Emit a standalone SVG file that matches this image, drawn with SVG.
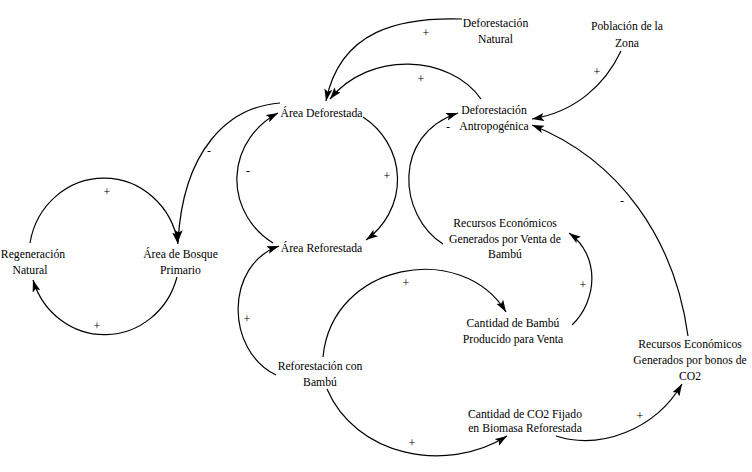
<svg xmlns="http://www.w3.org/2000/svg" width="752" height="472" viewBox="0 0 752 472">
<style>
.n text{font-family:"Liberation Serif","Times New Roman",serif;font-size:13px;fill:#000;text-anchor:middle}
.c path{fill:none;stroke:#000;stroke-width:1.2;marker-end:url(#ah)}
.s{font-family:"Liberation Serif","Times New Roman",serif;font-size:12px;fill:#000;text-anchor:middle}
</style>
<defs>
<marker id="ah" markerUnits="userSpaceOnUse" markerWidth="13" markerHeight="9" refX="12" refY="4" orient="auto">
<path d="M0,0 L12,4 L0,8 L2.5,4 z" fill="#000"/>
</marker>
</defs>
<rect width="752" height="472" fill="#fff"/>
<g class="c" id="connectors">
<path d="M30,243 A75 78 0 0 1 178,244"/>
<path d="M177,277 A75 78 0 0 1 33,280"/>
<path d="M280,103 C228,107 183,150 178,242"/>
<path d="M363,117 A80 76 0 0 1 366,240"/>
<path d="M273,243 A80 76 0 0 1 278,113"/>
<path d="M462,19 C400,17 340,30 326,101"/>
<path d="M481,99 C450,55 370,50 330,99"/>
<path d="M621,51 C605,85 575,112 532,119"/>
<path d="M688,336 C675,240 620,160 532,125"/>
<path d="M443,244 C398,215 392,135 458,113"/>
<path d="M572,325 C598,300 600,255 569,233"/>
<path d="M323,357 C332,262 462,240 506,312"/>
<path d="M276,375 C225,350 225,265 279,246"/>
<path d="M327,389 C355,455 445,475 507,436"/>
<path d="M556,436 C600,450 655,430 682,384"/>
</g>
<g class="signs">
<text class="s" x="107" y="196">+</text>
<text class="s" x="97" y="330">+</text>
<text class="s" x="209" y="155">-</text>
<text class="s" x="248" y="175">-</text>
<text class="s" x="387" y="180">+</text>
<text class="s" x="426" y="37">+</text>
<text class="s" x="421" y="83">+</text>
<text class="s" x="597" y="76">+</text>
<text class="s" x="448" y="131">-</text>
<text class="s" x="622" y="205">-</text>
<text class="s" x="583" y="289">+</text>
<text class="s" x="406" y="287">+</text>
<text class="s" x="247" y="323">+</text>
<text class="s" x="412" y="447">+</text>
<text class="s" x="640" y="420">+</text>
</g>
<g class="n" id="regeneracion-natural">
<text transform="translate(33 0) scale(0.9 1)" y="258">Regeneración</text>
<text transform="translate(30 0) scale(0.9 1)" y="274">Natural</text>
</g>
<g class="n" id="area-bosque-primario">
<text transform="translate(180.5 0) scale(0.9 1)" y="258">Área de Bosque</text>
<text transform="translate(180.5 0) scale(0.9 1)" y="274">Primario</text>
</g>
<g class="n" id="area-deforestada">
<text transform="translate(321.5 0) scale(0.9 1)" y="117">Área Deforestada</text>
</g>
<g class="n" id="area-reforestada">
<text transform="translate(321.5 0) scale(0.9 1)" y="252">Área Reforestada</text>
</g>
<g class="n" id="deforestacion-natural">
<text transform="translate(495.5 0) scale(0.9 1)" y="27">Deforestación</text>
<text transform="translate(495.5 0) scale(0.9 1)" y="43">Natural</text>
</g>
<g class="n" id="poblacion-zona">
<text transform="translate(627 0) scale(0.9 1)" y="30">Población de la</text>
<text transform="translate(627 0) scale(0.9 1)" y="47">Zona</text>
</g>
<g class="n" id="deforestacion-antropogenica">
<text transform="translate(494 0) scale(0.9 1)" y="114">Deforestación</text>
<text transform="translate(494 0) scale(0.9 1)" y="130">Antropogénica</text>
</g>
<g class="n" id="recursos-venta-bambu">
<text transform="translate(505 0) scale(0.9 1)" y="227">Recursos Económicos</text>
<text transform="translate(505 0) scale(0.9 1)" y="243">Generados por Venta de</text>
<text transform="translate(505 0) scale(0.9 1)" y="258">Bambú</text>
</g>
<g class="n" id="cantidad-bambu">
<text transform="translate(513 0) scale(0.9 1)" y="327">Cantidad de Bambú</text>
<text transform="translate(513 0) scale(0.9 1)" y="343">Producido para Venta</text>
</g>
<g class="n" id="reforestacion-bambu">
<text transform="translate(320 0) scale(0.9 1)" y="370">Reforestación con</text>
<text transform="translate(320 0) scale(0.9 1)" y="386">Bambú</text>
</g>
<g class="n" id="recursos-bonos-co2">
<text transform="translate(690 0) scale(0.9 1)" y="348">Recursos Económicos</text>
<text transform="translate(690 0) scale(0.9 1)" y="364">Generados por bonos de</text>
<text transform="translate(690 0) scale(0.9 1)" y="380">CO2</text>
</g>
<g class="n" id="cantidad-co2">
<text transform="translate(525 0) scale(0.9 1)" y="418">Cantidad de CO2 Fijado</text>
<text transform="translate(525 0) scale(0.9 1)" y="432">en Biomasa Reforestada</text>
</g>
</svg>
